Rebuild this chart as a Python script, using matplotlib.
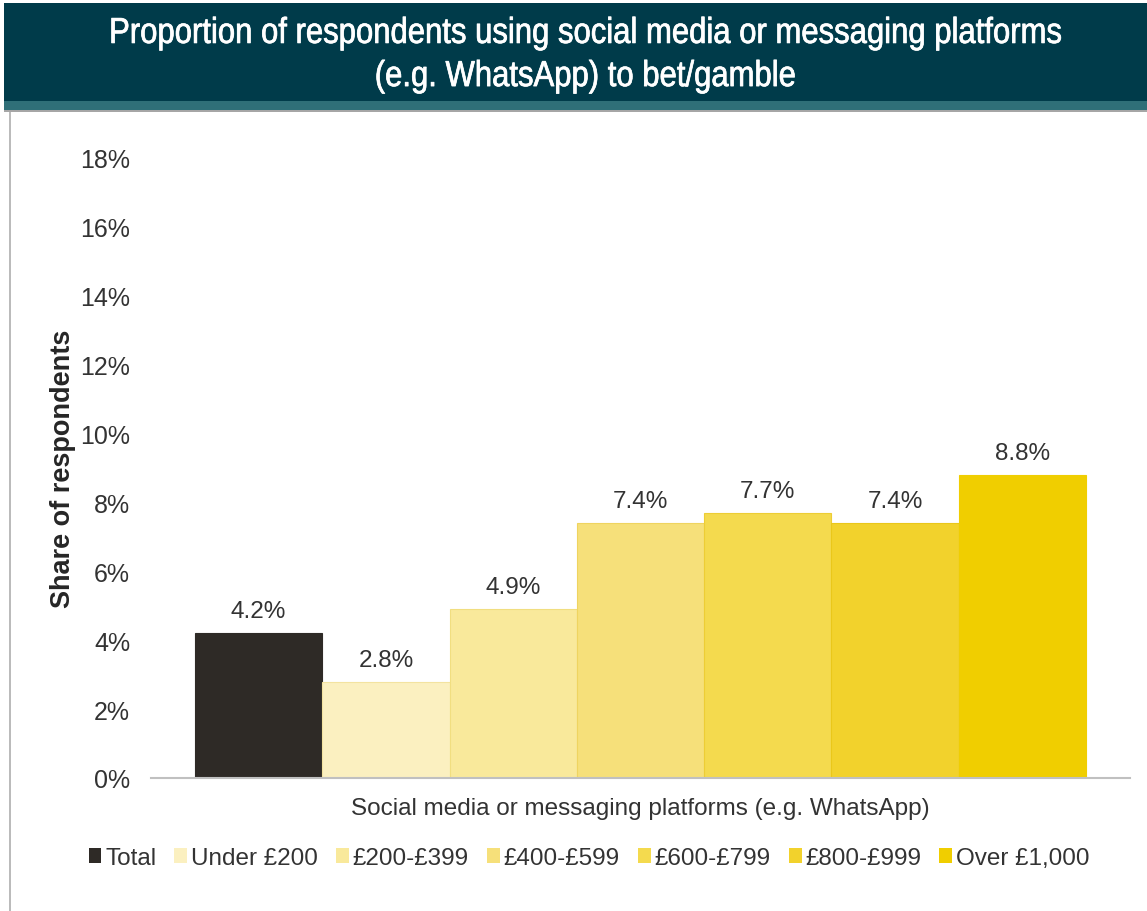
import matplotlib.pyplot as plt
from matplotlib.patches import Rectangle, Patch
from matplotlib.patheffects import AbstractPathEffect
from matplotlib.transforms import Affine2D
from matplotlib.ticker import FuncFormatter

# spend bands and share of respondents (%)
groups = ["Total", "Under £200", "£200-£399", "£400-£599",
          "£600-£799", "£800-£999", "Over £1,000"]
shares = [4.2, 2.8, 4.9, 7.4, 7.7, 7.4, 8.8]
category = "Social media or messaging platforms (e.g. WhatsApp)"
title = ("Proportion of respondents using social media or messaging platforms\n"
         "(e.g. WhatsApp) to bet/gamble")

colors = ["#2E2A26", "#FBF0C0", "#F9E99B", "#F6E07A",
          "#F4DA4E", "#F2D22C", "#F0CE00"]
edges = ["#2E2A26", "#F3E3A0", "#F1DE80", "#EFD460",
         "#EDCD35", "#EAC71A", "#F0CE00"]

plt.rcParams["font.family"] = ["Liberation Sans", "DejaVu Sans"]
text_color = "#333333"


class Narrow(AbstractPathEffect):
    """Squeeze glyph outlines horizontally about a fixed x (display px),
    with an optional outline stroke to thicken them."""

    def __init__(self, sx, cx, stroke=0.0, color="white"):
        super().__init__()
        self.sx = sx
        self.cx = cx
        self.stroke = stroke
        self.color = color

    def draw_path(self, renderer, gc, tpath, affine, rgbFace=None):
        squeeze = Affine2D().translate(-self.cx, 0).scale(self.sx, 1).translate(self.cx, 0)
        if self.stroke:
            gc0 = renderer.new_gc()
            gc0.copy_properties(gc)
            gc0.set_linewidth(self.stroke)
            gc0.set_foreground(self.color)
            renderer.draw_path(gc0, tpath, affine + squeeze, rgbFace)
            gc0.restore()
        renderer.draw_path(gc, tpath, affine + squeeze, rgbFace)


fig = plt.figure(figsize=(11.47, 9.12), dpi=100)
W, H = 1147, 912

def px(x0, y0, x1, y1):
    # pixel box (top-left origin) -> figure fraction rectangle
    return (x0 / W, 1 - y1 / H, (x1 - x0) / W, (y1 - y0) / H)

# header band
for box, c in [((4, 4, W, 102), "#003B4A"),
               ((4, 102, W, 111), "#2F6F78"),
               ((4, 111, W, 113), "#A6A6A6"),
               ((9, 113, 11, H), "#BBBBBB")]:
    x, y, w, h = px(*box)
    fig.patches.append(Rectangle((x, y), w, h, transform=fig.transFigure,
                                 facecolor=c, edgecolor="none", zorder=0))

title_cx = 585
fig.text(title_cx / W, 1 - 56 / H, title, ha="center", va="center",
         color="white", fontsize=26, linespacing=1.3,
         path_effects=[Narrow(0.86, title_cx, stroke=0.5)])

ax = fig.add_axes(px(151, 159, 1130, 779))
x_pos = list(range(len(shares)))
bars = ax.bar(x_pos, shares, width=1.0, color=colors, edgecolor=edges,
              linewidth=0.8, zorder=2)
for b, v in zip(bars, shares):
    ax.text(b.get_x() + b.get_width() / 2, v + 0.64, f"{v:.1f}%",
            ha="center", va="center", fontsize=17.5, color=text_color)

margin = 0.346
ax.set_xlim(-0.5 - margin, len(shares) - 0.5 + margin)
ax.set_ylim(0, 18)
ax.set_yticks(range(0, 19, 2))
ax.yaxis.set_major_formatter(FuncFormatter(lambda v, _: f"{v:.0f}%"))
ax.set_xticks([(len(shares) - 1) / 2])
ax.set_xticklabels([category])
ax.tick_params(axis="y", length=0, pad=15, labelsize=18, labelcolor=text_color)
ax.tick_params(axis="x", length=0, pad=14, labelsize=17.5, labelcolor=text_color)
for s in ["top", "right", "left"]:
    ax.spines[s].set_visible(False)
ax.spines["bottom"].set_color("#C0C0C0")
ax.spines["bottom"].set_linewidth(1.5)
ax.spines["bottom"].set_zorder(3)

ax.set_ylabel("Share of respondents", fontsize=19.5, fontweight="bold",
              color="#262626", labelpad=3)

handles = [Patch(facecolor=c, edgecolor="none") for c in colors]
fig.legend(handles, groups, loc="center", bbox_to_anchor=(589 / W, 1 - 859 / H),
           ncol=len(groups), frameon=False, fontsize=17.5, handlelength=0.53,
           handleheight=0.55, handletextpad=0.15, columnspacing=0.75,
           labelcolor=text_color)

fig.savefig("out.png", dpi=100, facecolor="white")
